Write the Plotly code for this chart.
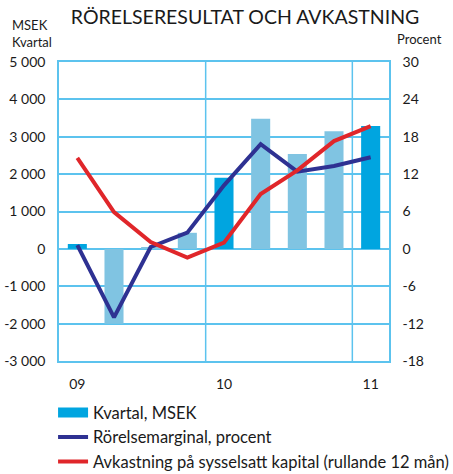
import plotly.graph_objects as go

quarters = ["09 K1", "09 K2", "09 K3", "09 K4", "10 K1", "10 K2", "10 K3", "10 K4", "11 K1"]
kvartal_msek = [130, -2000, 50, 430, 1900, 3480, 2540, 3150, 3290]
rorelsemarginal = [0.6, -11.0, 0.3, 2.6, 10.2, 16.8, 12.4, 13.3, 14.7]
avkastning = [14.6, 5.9, 1.1, -1.4, 1.0, 8.8, 12.6, 17.3, 19.7]
year_ticks = ["09", "10", "11"]
left_ticks = [5000, 4000, 3000, 2000, 1000, 0, -1000, -2000, -3000]
left_labels = ["5 000", "4 000", "3 000", "2 000", "1 000", "0", "-1 000", "-2 000", "-3 000"]
right_ticks = [30, 24, 18, 12, 6, 0, -6, -12, -18]
right_labels = ["30", "24", "18", "12", "6", "0", "-6", "-12", "-18"]

DARK = "#00a5e0"
LIGHT = "#80c4e2"
GRID = "#5cc3ee"
FONT = "Lato, 'Open Sans', sans-serif"

x_idx = list(range(len(quarters)))
bar_colors = [DARK if q.endswith("K1") else LIGHT for q in quarters]

fig = go.Figure()
fig.add_trace(go.Bar(x=x_idx, y=kvartal_msek, marker_color=bar_colors, width=0.52,
                     name="Kvartal, MSEK", marker_line_width=0, showlegend=False))
fig.add_trace(go.Scatter(x=[None], y=[None], mode="lines", name="Kvartal, MSEK",
                         line=dict(color=DARK, width=10)))
fig.add_trace(go.Scatter(x=x_idx, y=rorelsemarginal, mode="lines", yaxis="y2",
                         line=dict(color="#2e3192", width=4), name="Rörelsemarginal, procent"))
fig.add_trace(go.Scatter(x=x_idx, y=avkastning, mode="lines", yaxis="y2",
                         line=dict(color="#e0262a", width=4),
                         name="Avkastning på sysselsatt kapital (rullande 12 mån)"))

for xv in [3.5, 7.5]:
    fig.add_shape(type="line", xref="x", yref="paper", x0=xv, x1=xv, y0=0, y1=1,
                  line=dict(color=GRID, width=1.5), layer="below")

fig.update_layout(
    width=453, height=474,
    margin=dict(l=59, r=64, t=62, b=113, autoexpand=False),
    paper_bgcolor="white", plot_bgcolor="white",
    font=dict(family=FONT, size=14, color="#1a1a1a"),
    title=dict(text="RÖRELSERESULTAT OCH AVKASTNING", x=0.541, xanchor="center",
               y=0.964, yanchor="middle", font=dict(size=19.5, color="#1a1a1a", family=FONT)),
    showlegend=True,
    legend=dict(x=-0.018, xanchor="left", y=-0.115, yanchor="top",
                font=dict(size=16.5, family=FONT), traceorder="normal",
                bgcolor="rgba(0,0,0,0)"),
    xaxis=dict(range=[-0.5, 8.5], tickvals=[0, 4, 8], ticktext=year_ticks, showgrid=False,
               showline=True, linecolor=GRID, linewidth=1.5, mirror=True,
               ticks="outside", ticklen=9, tickcolor="rgba(0,0,0,0)", zeroline=False,
               tickfont=dict(size=14)),
    yaxis=dict(range=[-3000, 5000], tickvals=left_ticks, ticktext=left_labels,
               showgrid=True, gridcolor=GRID, gridwidth=1.5, zeroline=True,
               zerolinecolor=GRID, zerolinewidth=1.5,
               showline=True, linecolor=GRID, linewidth=1.5,
               ticks="outside", ticklen=9, tickcolor="rgba(0,0,0,0)", tickfont=dict(size=14)),
    yaxis2=dict(range=[-18, 30], tickvals=right_ticks, ticktext=right_labels,
                overlaying="y", side="right", showgrid=False, zeroline=False,
                showline=True, linecolor=GRID, linewidth=1.5,
                ticks="outside", ticklen=9, tickcolor="rgba(0,0,0,0)", tickfont=dict(size=14)),
    annotations=[
        dict(text="MSEK<br>Kvartal", xref="paper", yref="paper", x=-0.148, y=1.033,
             xanchor="left", yanchor="bottom", showarrow=False, align="left",
             font=dict(size=13, family=FONT)),
        dict(text="Procent", xref="paper", yref="paper", x=1.018, y=1.043,
             xanchor="left", yanchor="bottom", showarrow=False, align="left",
             font=dict(size=13, family=FONT)),
    ],
)

fig.write_html("out.html", config={"displayModeBar": False},
               post_script="document.body.style.margin='0';")
